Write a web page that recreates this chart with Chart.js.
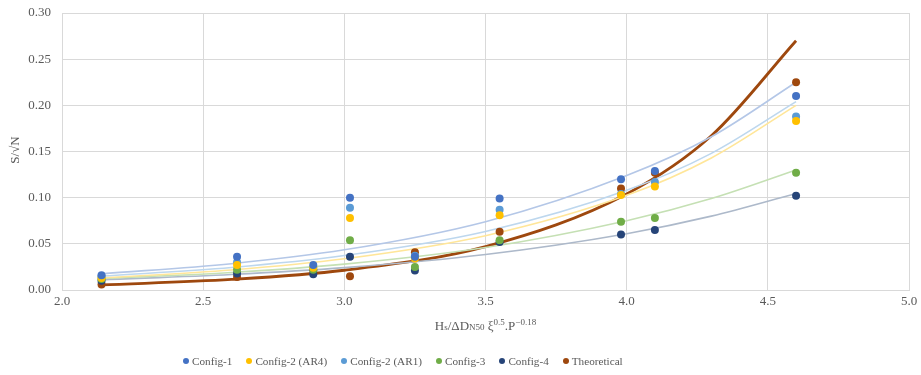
<!DOCTYPE html>
<html>
<head>
<meta charset="utf-8">
<script src="https://cdn.jsdelivr.net/npm/chart.js@4/dist/chart.umd.min.js"></script>
<style>
  html, body { margin: 0; padding: 0; background: #fff; }
  #wrap { position: relative; width: 921px; height: 375px; }
  #legend { position: absolute; left: 183px; top: 355px; display: flex; align-items: center;
            font: 11.2px "Liberation Serif", "Times New Roman", serif; color: #595959; }
  .item { display: flex; align-items: center; margin-right: 14px; white-space: nowrap; }
  .dot { width: 6px; height: 6px; border-radius: 50%; margin-right: 3px; display: inline-block; }
</style>
</head>
<body>
<div id="wrap">
  <canvas id="c" width="921" height="375"></canvas>
  <div id="legend"></div>
</div>
<script>
// ---- data ----
const xValues    = [2.14, 2.62, 2.89, 3.02, 3.25, 3.55, 3.98, 4.10, 4.60];
const config1    = [0.016, 0.036, 0.027, 0.100, 0.036, 0.099, 0.120, 0.129, 0.210];
const config2AR4 = [0.013, 0.027, 0.024, 0.078, 0.034, 0.081, 0.103, 0.112, 0.183];
const config2AR1 = [0.015, 0.030, 0.025, 0.089, 0.037, 0.087, 0.104, 0.117, 0.188];
const config3    = [0.012, 0.022, 0.022, 0.054, 0.025, 0.054, 0.074, 0.078, 0.127];
const config4    = [0.010, 0.018, 0.017, 0.036, 0.021, 0.052, 0.060, 0.065, 0.102];
const theoretical= [0.006, 0.014, 0.021, 0.015, 0.041, 0.063, 0.110, 0.127, 0.225];

// trendline values at these x positions
const trendX        = [2.14, 2.6, 3.0, 3.5, 4.0, 4.3, 4.6];
const trendConfig1  = [0.0175, 0.0285, 0.0435, 0.074, 0.124, 0.166, 0.225];
const trendAR4      = [0.013, 0.0217, 0.0338, 0.0588, 0.1025, 0.143, 0.200];
const trendAR1      = [0.015, 0.0244, 0.0373, 0.0634, 0.108, 0.148, 0.204];
const trendConfig3  = [0.0125, 0.019, 0.028, 0.046, 0.075, 0.099, 0.130];
const trendConfig4  = [0.011, 0.0168, 0.0242, 0.0385, 0.061, 0.080, 0.1045];
const trendTheory   = [0.0055, 0.0114, 0.0214, 0.047, 0.104, 0.167, 0.270];

const seriesNames = ['Config-1', 'Config-2 (AR4)', 'Config-2 (AR1)', 'Config-3', 'Config-4', 'Theoretical'];
const yTicks = [0, 0.05, 0.10, 0.15, 0.20, 0.25, 0.30];
const xTicks = [2.0, 2.5, 3.0, 3.5, 4.0, 4.5, 5.0];

const colors = ['#4472C4', '#FFC000', '#5B9BD5', '#70AD47', '#264478', '#9E480E'];
const trendColors = ['#B4C7E7', '#FFE699', '#BDD7EE', '#C5E0B4', '#ADB9CA', '#9E480E'];

const seriesVals = [config1, config2AR4, config2AR1, config3, config4, theoretical];
const trendVals = [trendConfig1, trendAR4, trendAR1, trendConfig3, trendConfig4, trendTheory];

const pts = (xs, ys) => xs.map((x, i) => ({ x: x, y: ys[i] }));

const datasets = [];
trendVals.forEach((tv, i) => {
  datasets.push({
    label: seriesNames[i] + ' trend',
    data: pts(trendX, tv),
    showLine: true,
    borderColor: trendColors[i],
    borderWidth: i === 5 ? 2.8 : 1.6,
    pointRadius: 0,
    pointHoverRadius: 0,
    cubicInterpolationMode: 'monotone',
    order: 2
  });
});
seriesVals.forEach((sv, i) => {
  datasets.push({
    label: seriesNames[i],
    data: pts(xValues, sv),
    showLine: false,
    backgroundColor: colors[i],
    borderColor: colors[i],
    pointRadius: 4,
    pointBorderWidth: 0,
    order: 1
  });
});

const FONT = '"Liberation Serif", "Times New Roman", serif';

const titlesPlugin = {
  id: 'titles',
  afterDraw(chart) {
    const ctx = chart.ctx;
    const ca = chart.chartArea;
    ctx.save();
    ctx.fillStyle = '#595959';
    // y title
    ctx.save();
    ctx.translate(16, 150);
    ctx.rotate(-Math.PI / 2);
    ctx.font = '13px ' + FONT;
    ctx.textAlign = 'center';
    ctx.textBaseline = 'middle';
    ctx.fillText('S/\u221AN', 0, 0);
    ctx.restore();
    // x title with sub/superscripts
    const parts = [
      ['H', 13, 0], ['s', 9, 0], ['/\u0394D', 13, 0], ['N50', 9, 0], [' \u03BE', 13, 0],
      ['0.5', 9, -5], ['.P', 13, 0], ['\u22120.18', 9, -5]
    ];
    let total = 0;
    parts.forEach(p => { ctx.font = p[1] + 'px ' + FONT; total += ctx.measureText(p[0]).width; });
    let x = (ca.left + ca.right) / 2 - total / 2;
    const base = 330;
    ctx.textAlign = 'left';
    ctx.textBaseline = 'alphabetic';
    parts.forEach(p => {
      ctx.font = p[1] + 'px ' + FONT;
      ctx.fillText(p[0], x, base + p[2]);
      x += ctx.measureText(p[0]).width;
    });
    ctx.restore();
  }
};

new Chart(document.getElementById('c'), {
  type: 'scatter',
  data: { datasets: datasets },
  options: {
    responsive: false,
    animation: false,
    layout: { padding: { left: 0, right: 12, top: 13, bottom: 0 } },
    plugins: { legend: { display: false }, tooltip: { enabled: false } },
    scales: {
      x: {
        type: 'linear', min: 2, max: 5,
        afterBuildTicks: s => { s.ticks = xTicks.map(v => ({ value: v })); },
        afterFit: s => { s.height = 85; s.paddingLeft = 0; s.paddingRight = 0; },
        ticks: { color: '#595959', font: { family: FONT, size: 13 }, padding: 4,
                 callback: v => Number(v).toFixed(1) },
        grid: { color: '#D9D9D9', lineWidth: 1, drawTicks: false },
        border: { color: '#D9D9D9' }
      },
      y: {
        type: 'linear', min: 0, max: 0.3,
        afterBuildTicks: s => { s.ticks = yTicks.map(v => ({ value: v })); },
        afterFit: s => { s.width = 62; s.paddingTop = 0; s.paddingBottom = 0; },
        ticks: { color: '#595959', font: { family: FONT, size: 13 }, padding: 11,
                 callback: v => Number(v).toFixed(2) },
        grid: { color: '#D9D9D9', lineWidth: 1, drawTicks: false },
        border: { color: '#D9D9D9' }
      }
    }
  },
  plugins: [titlesPlugin]
});

// HTML legend
const lg = document.getElementById('legend');
seriesNames.forEach((n, i) => {
  const it = document.createElement('span');
  it.className = 'item';
  const d = document.createElement('span');
  d.className = 'dot';
  d.style.background = colors[i];
  it.appendChild(d);
  it.appendChild(document.createTextNode(n));
  lg.appendChild(it);
});
</script>
</body>
</html>
